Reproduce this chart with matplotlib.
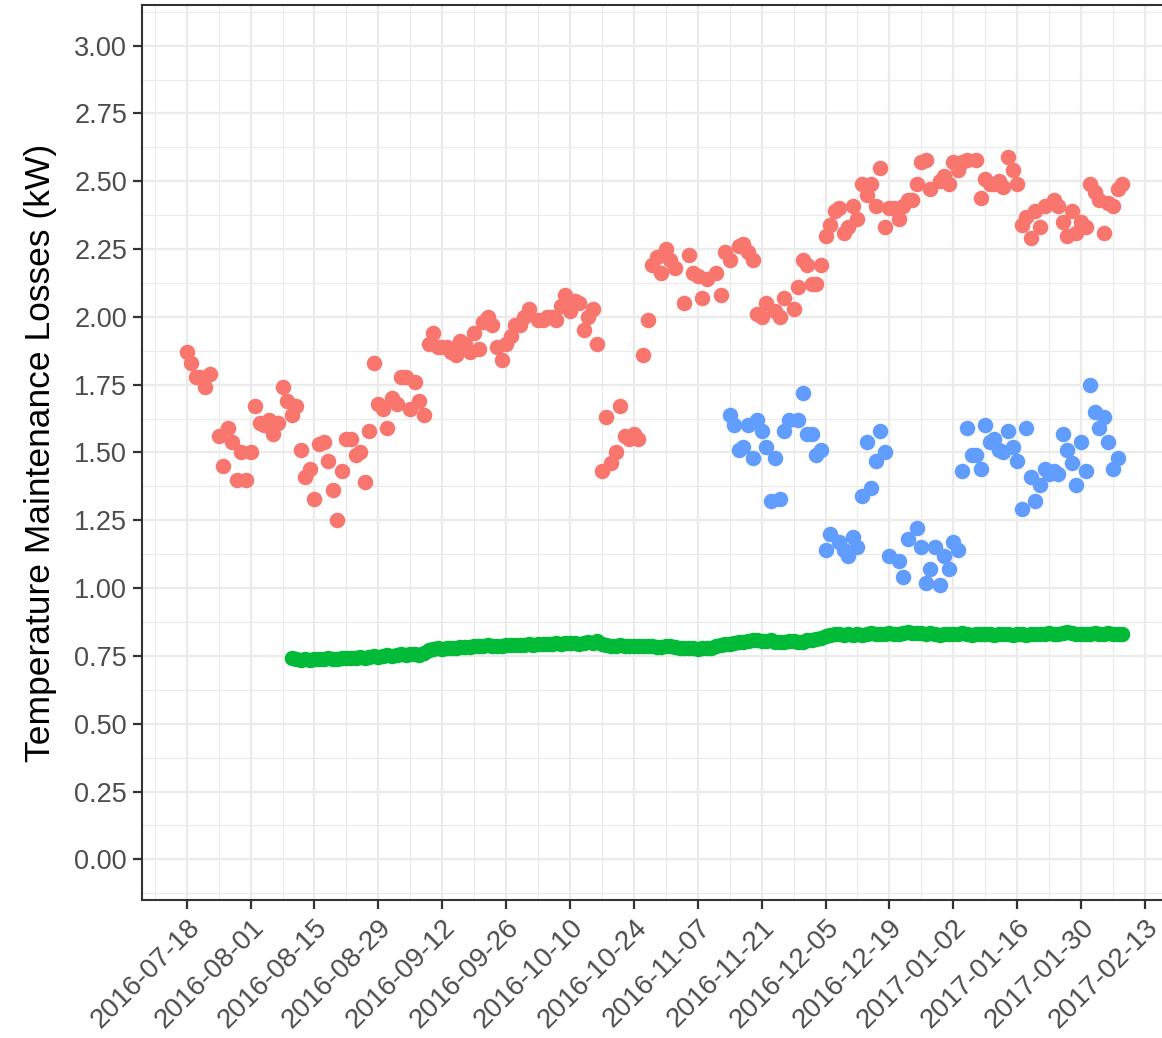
import numpy as np
import matplotlib
matplotlib.use("Agg")
import matplotlib.pyplot as plt
import matplotlib.dates as mdates
from matplotlib.ticker import MultipleLocator

# --- data (day offsets from 2016-07-18, values in kW) ---
start = np.datetime64("2016-07-18")

red_days = [0, 1, 2, 3, 4, 5, 7, 8, 9, 10, 11, 12, 13, 14, 15, 16, 17, 18, 19, 20,
            21, 22, 23, 24, 25, 26, 27, 28, 29, 30, 31, 32, 33, 34, 35, 36, 37, 38, 39, 40,
            41, 42, 43, 44, 45, 46, 47, 48, 49, 50, 51, 52, 53, 54, 55, 56, 57, 58, 59, 60,
            61, 62, 63, 64, 65, 66, 67, 68, 69, 70, 71, 72, 73, 74, 75, 77, 78, 79, 80, 81,
            82, 83, 84, 85, 86, 87, 88, 89, 90, 91, 92, 93, 94, 95, 96, 97, 98, 99, 100, 101,
            102, 103, 104, 105, 106, 107, 109, 110, 111, 112, 113, 114, 116, 117, 118, 119, 121, 122, 123, 124,
            125, 126, 127, 129, 130, 131, 133, 134, 135, 136, 137, 138, 139, 140, 141, 142, 143, 144, 145, 146,
            147, 148, 149, 150, 151, 152, 153, 154, 155, 156, 157, 158, 159, 160, 161, 162, 163, 165, 166, 167,
            168, 169, 170, 171, 173, 174, 175, 176, 177, 178, 179, 180, 181, 182, 183, 184, 185, 186, 187, 188,
            190, 191, 192, 193, 194, 195, 196, 197, 198, 199, 200, 201, 202, 203, 204, 205]
red_vals = [1.87, 1.83, 1.78, 1.78, 1.74, 1.79, 1.56, 1.45, 1.59, 1.54, 1.40, 1.50, 1.40, 1.50, 1.67, 1.61, 1.60, 1.62, 1.57, 1.61,
            1.74, 1.69, 1.64, 1.67, 1.51, 1.41, 1.44, 1.33, 1.53, 1.54, 1.47, 1.36, 1.25, 1.43, 1.55, 1.55, 1.49, 1.50, 1.39, 1.58,
            1.83, 1.68, 1.66, 1.59, 1.70, 1.68, 1.78, 1.78, 1.66, 1.76, 1.69, 1.64, 1.90, 1.94, 1.89, 1.89, 1.89, 1.87, 1.86, 1.91,
            1.90, 1.87, 1.94, 1.88, 1.98, 2.00, 1.97, 1.89, 1.84, 1.90, 1.93, 1.97, 1.97, 2.00, 2.03, 1.99, 1.99, 2.00, 2.00, 1.99,
            2.04, 2.08, 2.02, 2.06, 2.05, 1.95, 2.00, 2.03, 1.90, 1.43, 1.63, 1.46, 1.50, 1.67, 1.56, 1.55, 1.57, 1.55, 1.86, 1.99,
            2.19, 2.22, 2.16, 2.25, 2.21, 2.18, 2.05, 2.23, 2.16, 2.15, 2.07, 2.14, 2.16, 2.08, 2.24, 2.21, 2.26, 2.27, 2.24, 2.21,
            2.01, 2.00, 2.05, 2.02, 2.00, 2.07, 2.03, 2.11, 2.21, 2.19, 2.12, 2.12, 2.19, 2.30, 2.34, 2.39, 2.40, 2.31, 2.33, 2.41,
            2.36, 2.49, 2.45, 2.49, 2.41, 2.55, 2.33, 2.40, 2.40, 2.36, 2.41, 2.43, 2.43, 2.49, 2.57, 2.58, 2.47, 2.50, 2.52, 2.49,
            2.57, 2.54, 2.57, 2.58, 2.58, 2.44, 2.51, 2.49, 2.49, 2.50, 2.48, 2.59, 2.54, 2.49, 2.34, 2.37, 2.29, 2.39, 2.33, 2.41,
            2.43, 2.41, 2.35, 2.30, 2.39, 2.31, 2.35, 2.33, 2.49, 2.46, 2.43, 2.31, 2.42, 2.41, 2.47, 2.49]

blue_days = [119, 120, 121, 122, 123, 124, 125, 126, 127, 128, 129, 130, 131, 132, 134, 135, 136, 137, 138, 139,
             140, 141, 143, 144, 145, 146, 147, 148, 149, 150, 151, 152, 153, 154, 156, 157, 158, 160, 161, 162,
             163, 164, 165, 166, 167, 168, 169, 170, 171, 172, 173, 174, 175, 176, 177, 178, 179, 180, 181, 182,
             183, 184, 185, 186, 187, 188, 189, 190, 191, 192, 193, 194, 195, 196, 197, 198, 199, 200, 201, 202,
             203, 204]
blue_vals = [1.64, 1.60, 1.51, 1.52, 1.60, 1.48, 1.62, 1.58, 1.52, 1.32, 1.48, 1.33, 1.58, 1.62, 1.62, 1.72, 1.57, 1.57, 1.49, 1.51,
             1.14, 1.20, 1.17, 1.14, 1.12, 1.19, 1.15, 1.34, 1.54, 1.37, 1.47, 1.58, 1.50, 1.12, 1.10, 1.04, 1.18, 1.22, 1.15, 1.02,
             1.07, 1.15, 1.01, 1.12, 1.07, 1.17, 1.14, 1.43, 1.59, 1.49, 1.49, 1.44, 1.60, 1.54, 1.55, 1.51, 1.50, 1.58, 1.52, 1.47,
             1.29, 1.59, 1.41, 1.32, 1.38, 1.44, 1.42, 1.43, 1.42, 1.57, 1.51, 1.46, 1.38, 1.54, 1.43, 1.75, 1.65, 1.59, 1.63, 1.54,
             1.44, 1.48]

green_first_day = 23
green_vals = [0.742, 0.738, 0.735, 0.737, 0.736, 0.738, 0.740,
              0.739, 0.741, 0.737, 0.738, 0.742, 0.744, 0.741, 0.743, 0.745, 0.744,
              0.746, 0.748, 0.747, 0.750, 0.752, 0.751, 0.754, 0.756, 0.753, 0.757,
              0.758, 0.755, 0.760,
              0.772, 0.776, 0.778, 0.777, 0.779, 0.781, 0.780,
              0.782, 0.784, 0.783, 0.786, 0.785, 0.787, 0.789, 0.786, 0.788, 0.787,
              0.790, 0.789, 0.791, 0.792, 0.790, 0.793, 0.792, 0.794, 0.793, 0.795,
              0.794, 0.796, 0.795, 0.797, 0.796, 0.798, 0.795, 0.797, 0.800, 0.798,
              0.806, 0.795, 0.790, 0.788, 0.787, 0.789, 0.786, 0.788, 0.787, 0.785,
              0.787, 0.786, 0.788, 0.784, 0.783, 0.785, 0.786, 0.782, 0.780, 0.778,
              0.780, 0.779, 0.777, 0.779, 0.781, 0.780, 0.785, 0.790, 0.795, 0.793,
              0.798, 0.800, 0.803, 0.806, 0.810, 0.808, 0.806, 0.804, 0.807, 0.803,
              0.800, 0.802, 0.806, 0.804, 0.801, 0.803, 0.807, 0.810, 0.812, 0.815,
              0.822, 0.828, 0.832, 0.829, 0.826, 0.830, 0.828, 0.832, 0.827, 0.830,
              0.833, 0.831, 0.829, 0.832, 0.834, 0.830, 0.832, 0.835, 0.838, 0.834,
              0.836, 0.833, 0.831, 0.834, 0.830, 0.828, 0.832, 0.829, 0.831, 0.830,
              0.833, 0.830, 0.828, 0.831, 0.829, 0.832, 0.830, 0.827, 0.829, 0.832,
              0.830, 0.828, 0.831, 0.829, 0.827, 0.830, 0.832, 0.829, 0.831, 0.833,
              0.830, 0.832, 0.835, 0.838, 0.833, 0.830, 0.832, 0.829, 0.831, 0.834,
              0.832, 0.830, 0.833, 0.831, 0.829, 0.830]

# --- styling (ggplot theme_bw look) ---
red_color = "#F8766D"
green_color = "#00BA38"
blue_color = "#619CFF"
grid_color = "#EBEBEB"
dark = "#333333"
label_color = "#4D4D4D"

plt.rcParams["font.family"] = ["Liberation Sans", "DejaVu Sans"]

W, H = 1162, 1038
fig = plt.figure(figsize=(W / 100, H / 100), dpi=100)
left_px, right_px, top_px, bottom_px = 141.7, 1185, 5, 900
ax = fig.add_axes([left_px / W, 1 - bottom_px / H, (right_px - left_px) / W, (bottom_px - top_px) / H])

def to_dates(days):
    return start + np.asarray(days).astype("timedelta64[D]")

green_days = np.arange(green_first_day, green_first_day + len(green_vals))

ax.scatter(to_dates(red_days), red_vals, s=125, color=red_color, linewidths=0, zorder=3)
ax.scatter(to_dates(green_days), green_vals, s=125, color=green_color, linewidths=0, zorder=3)
ax.scatter(to_dates(blue_days), blue_vals, s=125, color=blue_color, linewidths=0, zorder=3)

# ticks and grid
major_dates = start + np.arange(0, 225, 14).astype("timedelta64[D]")
minor_dates = start + np.arange(-7, 225, 14).astype("timedelta64[D]")
ax.set_xticks(mdates.date2num(major_dates))
ax.set_xticks(mdates.date2num(minor_dates), minor=True)
ax.xaxis.set_major_formatter(mdates.DateFormatter("%Y-%m-%d"))
ax.yaxis.set_major_locator(MultipleLocator(0.25))
ax.set_yticks(np.arange(-0.125, 3.2, 0.25), minor=True)
ax.yaxis.set_major_formatter(plt.FuncFormatter(lambda v, p: f"{v:.2f}"))

# axis limits (set after ticks so the ticks do not widen them)
px_per_day = 4.563
tick0_px = 186.7
x0 = mdates.date2num(start)
ax.set_xlim(x0 + (left_px - tick0_px) / px_per_day, x0 + (right_px - tick0_px) / px_per_day)
ax.set_ylim(-0.15, 3.15)

ax.grid(which="major", color=grid_color, linewidth=1.6, zorder=0)
ax.grid(which="minor", color=grid_color, linewidth=0.8, zorder=0)
ax.set_axisbelow(True)

ax.tick_params(which="major", length=6.5, width=1.6, color=dark, labelcolor=label_color,
               labelsize=19.5, pad=4)
ax.tick_params(axis="x", which="major", labelsize=20)
ax.tick_params(which="minor", length=0)
for lab in ax.get_xticklabels():
    lab.set_rotation(45)
    lab.set_ha("right")
    lab.set_va("top")
    lab.set_rotation_mode("anchor")

for s in ax.spines.values():
    s.set_color(dark)
    s.set_linewidth(1.5)

ax.set_ylabel("Temperature Maintenance Losses (kW)", fontsize=25.5, color="black", labelpad=12)

fig.savefig("out.png", dpi=100, facecolor="white")
